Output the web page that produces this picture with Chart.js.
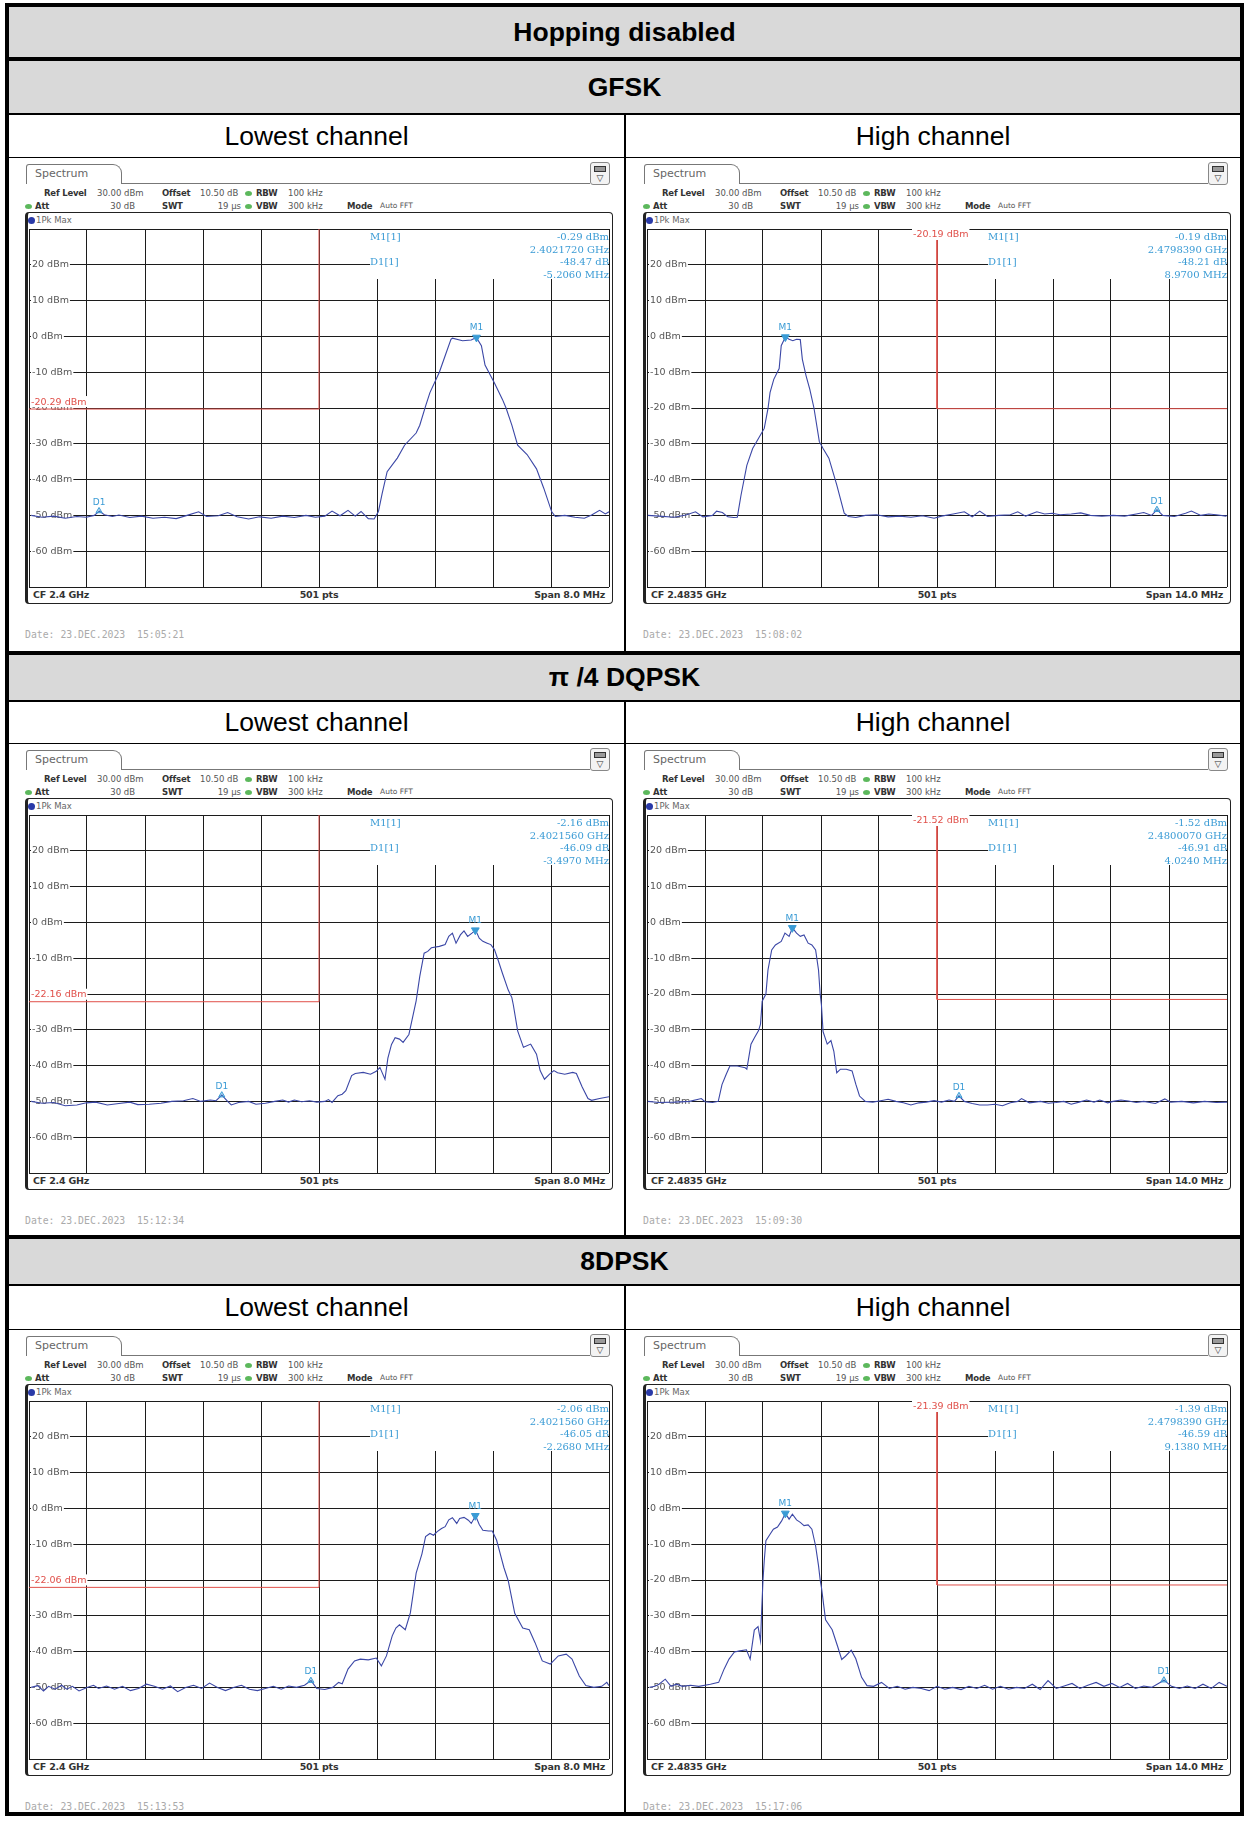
<!DOCTYPE html>
<html>
<head>
<meta charset="utf-8">
<title>Hopping disabled</title>
<script src="https://cdn.jsdelivr.net/npm/chart.js@4.4.1/dist/chart.umd.min.js"></script>
<style>
  html, body { margin: 0; padding: 0; background: #fff; }
  #page { position: relative; width: 1249px; height: 1822px; overflow: hidden; font-family: "Liberation Sans", Arial, sans-serif; }
  .box { position: absolute; box-sizing: border-box; }
  .t { position: absolute; white-space: nowrap; height: 12px; line-height: 12px; font-family: "DejaVu Sans", sans-serif; font-size: 8.5px; color: #555; }
  .b { font-weight: bold; color: #333; letter-spacing: -0.2px; }
  .mk { font-family: "DejaVu Serif", serif; font-size: 10px; color: #3a9bd5; }
  .band { position: absolute; display: flex; align-items: center; justify-content: center; color: #000; font-size: 26.5px; }
</style>
</head>
<body>
<div id="page"></div>
<script>
// table text
const tableTitle = 'Hopping disabled';
const modulations = ['GFSK', 'π /4 DQPSK', '8DPSK'];
const channelNames = ['Lowest channel', 'High channel'];

// spectrum settings per panel (GFSK low, GFSK high, DQPSK low, DQPSK high, 8DPSK low, 8DPSK high)
const centerMHz = [2400, 2483.5, 2400, 2483.5, 2400, 2483.5];
const cfText = ['2.4 GHz', '2.4835 GHz', '2.4 GHz', '2.4835 GHz', '2.4 GHz', '2.4835 GHz'];
const spanMHz = [8, 14, 8, 14, 8, 14];
const m1Level = [-0.29, -0.19, -2.16, -1.52, -2.06, -1.39];
const m1FreqGHz = ['2.4021720', '2.4798390', '2.4021560', '2.4800070', '2.4021560', '2.4798390'];
const d1DeltaDb = [-48.47, -48.21, -46.09, -46.91, -46.05, -46.59];
const d1DeltaMHz = ['-5.2060', '8.9700', '-3.4970', '4.0240', '-2.2680', '9.1380'];
const displayLine = [-20.29, -20.19, -22.16, -21.52, -22.06, -21.39];
const sweepTime = ['15:05:21', '15:08:02', '15:12:34', '15:09:30', '15:13:53', '15:17:06'];
const refLevel = 30;
const bottomLevel = -70;
const yTickLabels = [20, 10, 0, -10, -20, -30, -40, -50, -60];

// traces: [MHz from CF, dBm]
const gfskLowTrace = [
  [-3.97,-50.0],[-3.82,-50.5],[-3.66,-50.2],[-3.50,-50.8],[-3.34,-50.3],[-3.21,-50.5],
  [-3.10,-50.0],[-3.03,-48.8],[-2.96,-49.8],[-2.85,-50.3],[-2.76,-49.9],[-2.61,-50.6],
  [-2.45,-50.2],[-2.29,-50.8],[-2.13,-50.5],[-1.97,-50.9],[-1.82,-50.0],[-1.66,-49.0],
  [-1.55,-50.3],[-1.39,-50.1],[-1.26,-49.2],[-1.13,-50.4],[-0.97,-51.0],[-0.82,-50.4],
  [-0.66,-50.8],[-0.50,-50.2],[-0.34,-50.6],[-0.18,-50.0],[-0.05,-50.5],[0.08,-50.2],
  [0.18,-48.8],[0.29,-50.1],[0.40,-48.6],[0.50,-50.2],[0.58,-48.9],[0.68,-50.9],[0.76,-51.0],
  [0.82,-48.9],[0.87,-44.0],[0.94,-37.8],[1.08,-34.0],[1.18,-30.4],[1.34,-27.0],[1.39,-24.8],
  [1.47,-19.5],[1.53,-15.7],[1.66,-10.0],[1.74,-5.4],[1.82,-0.8],[1.84,-0.5],[1.98,-1.2],
  [2.10,-1.0],[2.17,-0.29],[2.24,-2.6],[2.29,-8.0],[2.42,-13.0],[2.53,-17.6],[2.58,-20.0],
  [2.66,-24.8],[2.74,-30.4],[2.87,-33.0],[3.00,-37.0],[3.10,-42.4],[3.21,-49.0],[3.26,-50.3],
  [3.39,-50.0],[3.53,-50.5],[3.66,-50.8],[3.76,-49.9],[3.87,-48.6],[3.95,-49.6],[4.00,-49.0]
];
const gfskHighTrace = [
  [-6.98,-50.0],[-6.71,-50.2],[-6.34,-50.5],[-6.06,-49.9],[-5.83,-49.0],[-5.65,-50.4],
  [-5.42,-50.0],[-5.32,-48.8],[-5.18,-49.2],[-5.05,-50.4],[-4.91,-50.6],[-4.82,-50.5],
  [-4.73,-44.3],[-4.59,-36.0],[-4.45,-31.3],[-4.31,-28.5],[-4.17,-25.7],[-4.08,-20.2],
  [-4.03,-15.7],[-3.94,-12.0],[-3.81,-9.0],[-3.76,-2.6],[-3.66,-0.19],[-3.57,-0.8],
  [-3.48,-1.2],[-3.39,-0.8],[-3.30,-0.9],[-3.25,-6.4],[-3.16,-11.0],[-3.07,-14.8],
  [-2.97,-20.0],[-2.84,-29.4],[-2.75,-31.3],[-2.61,-34.0],[-2.42,-41.5],[-2.24,-49.4],
  [-2.14,-50.3],[-1.96,-50.6],[-1.73,-50.0],[-1.46,-49.8],[-1.18,-50.4],[-0.90,-50.2],
  [-0.63,-50.5],[-0.35,-50.1],[-0.07,-50.8],[0.11,-50.2],[0.39,-49.6],[0.66,-49.0],
  [0.85,-50.4],[1.03,-48.8],[1.22,-50.3],[1.49,-50.0],[1.77,-49.8],[1.95,-49.0],
  [2.14,-50.2],[2.41,-49.0],[2.60,-49.6],[2.78,-49.4],[2.97,-49.8],[3.24,-49.6],
  [3.47,-49.3],[3.70,-50.0],[3.98,-50.2],[4.25,-50.0],[4.53,-50.2],[4.81,-49.6],
  [4.99,-49.2],[5.18,-50.0],[5.31,-48.4],[5.45,-50.0],[5.73,-50.3],[6.00,-49.4],
  [6.14,-48.8],[6.37,-50.0],[6.56,-49.6],[6.74,-49.8],[6.97,-50.2],[7.00,-50.0]
];
const dqpskLowTrace = [
  [-3.97,-50.0],[-3.82,-50.5],[-3.66,-50.3],[-3.50,-51.2],[-3.34,-51.0],[-3.21,-50.4],
  [-3.08,-50.2],[-2.92,-51.0],[-2.76,-50.6],[-2.61,-50.2],[-2.50,-50.9],[-2.34,-50.8],
  [-2.18,-50.5],[-2.03,-50.0],[-1.87,-49.8],[-1.74,-49.2],[-1.63,-50.0],[-1.50,-49.6],
  [-1.42,-49.8],[-1.34,-48.25],[-1.26,-50.0],[-1.21,-51.0],[-1.11,-50.3],[-0.97,-50.0],
  [-0.87,-50.8],[-0.74,-50.5],[-0.61,-50.0],[-0.50,-49.6],[-0.42,-50.2],[-0.34,-49.6],
  [-0.24,-50.1],[-0.13,-49.8],[-0.03,-50.2],[0.08,-50.0],[0.13,-49.5],[0.18,-50.3],
  [0.26,-48.4],[0.32,-48.0],[0.37,-47.0],[0.45,-42.8],[0.50,-42.2],[0.61,-41.9],
  [0.71,-42.4],[0.79,-41.6],[0.84,-40.5],[0.91,-43.8],[0.95,-37.9],[1.00,-34.1],
  [1.05,-32.2],[1.11,-32.6],[1.16,-33.5],[1.24,-31.3],[1.29,-26.6],[1.34,-21.9],
  [1.39,-15.1],[1.45,-8.6],[1.50,-8.1],[1.55,-7.1],[1.66,-6.7],[1.74,-6.2],[1.79,-3.9],
  [1.84,-3.0],[1.89,-5.8],[1.95,-3.5],[2.00,-2.4],[2.05,-3.9],[2.11,-3.0],[2.16,-2.16],
  [2.21,-4.4],[2.26,-5.3],[2.32,-5.8],[2.37,-6.2],[2.42,-7.6],[2.47,-10.5],[2.53,-14.2],
  [2.61,-18.9],[2.66,-21.0],[2.68,-23.0],[2.74,-30.3],[2.82,-34.9],[2.92,-34.0],
  [3.00,-36.8],[3.05,-41.4],[3.11,-43.8],[3.18,-42.4],[3.24,-41.4],[3.29,-42.0],
  [3.39,-42.4],[3.50,-41.9],[3.55,-42.2],[3.63,-46.0],[3.71,-49.2],[3.76,-49.7],
  [3.87,-49.2],[4.00,-48.7]
];
const dqpskHighTrace = [
  [-6.98,-50.0],[-6.71,-50.3],[-6.34,-50.2],[-5.97,-50.0],[-5.69,-49.2],[-5.60,-50.1],
  [-5.42,-50.3],[-5.28,-50.0],[-5.19,-45.3],[-5.09,-42.5],[-5.00,-40.1],[-4.82,-40.1],
  [-4.63,-40.6],[-4.59,-41.0],[-4.49,-34.0],[-4.40,-32.1],[-4.31,-30.3],[-4.26,-28.4],
  [-4.22,-22.0],[-4.13,-20.0],[-4.08,-13.3],[-3.99,-7.7],[-3.90,-6.3],[-3.76,-5.3],
  [-3.67,-3.0],[-3.57,-3.9],[-3.49,-1.52],[-3.39,-3.0],[-3.30,-3.9],[-3.21,-3.5],
  [-3.11,-5.8],[-3.02,-6.3],[-2.93,-7.7],[-2.86,-13.3],[-2.82,-20.0],[-2.79,-23.0],
  [-2.75,-30.5],[-2.65,-34.0],[-2.56,-33.0],[-2.49,-36.0],[-2.42,-42.0],[-2.33,-41.0],
  [-2.19,-41.0],[-2.05,-41.5],[-1.96,-45.2],[-1.87,-48.5],[-1.73,-50.0],[-1.55,-50.2],
  [-1.36,-49.8],[-1.18,-49.4],[-0.99,-50.0],[-0.81,-50.4],[-0.63,-51.0],[-0.44,-50.4],
  [-0.26,-50.2],[-0.07,-49.8],[0.11,-50.2],[0.29,-49.6],[0.42,-50.0],[0.53,-48.43],
  [0.66,-50.0],[0.85,-50.6],[1.03,-51.0],[1.22,-51.0],[1.40,-50.8],[1.58,-51.2],
  [1.77,-50.4],[1.95,-50.0],[2.04,-49.2],[2.23,-50.4],[2.50,-50.0],[2.69,-50.5],
  [2.87,-50.3],[3.06,-50.0],[3.24,-50.8],[3.43,-50.2],[3.61,-49.6],[3.79,-50.2],
  [3.93,-49.6],[4.12,-50.4],[4.25,-50.0],[4.44,-49.6],[4.62,-49.9],[4.81,-50.3],
  [4.99,-50.0],[5.27,-50.6],[5.50,-49.3],[5.64,-50.2],[5.91,-50.0],[6.19,-50.4],
  [6.46,-50.0],[6.74,-50.3],[7.00,-50.2]
];
const d8LowTrace = [
  [-3.97,-50.0],[-3.88,-49.5],[-3.80,-51.0],[-3.73,-49.7],[-3.64,-50.5],[-3.55,-49.4],
  [-3.48,-50.5],[-3.40,-49.7],[-3.31,-51.0],[-3.20,-50.0],[-3.11,-49.4],[-3.04,-50.3],
  [-2.93,-49.6],[-2.82,-50.5],[-2.71,-49.7],[-2.60,-50.9],[-2.49,-50.3],[-2.38,-49.1],
  [-2.27,-49.7],[-2.16,-50.5],[-2.05,-49.6],[-1.95,-51.2],[-1.84,-50.0],[-1.73,-49.4],
  [-1.62,-50.3],[-1.51,-48.8],[-1.40,-50.0],[-1.29,-50.9],[-1.18,-50.0],[-1.07,-49.4],
  [-0.96,-50.5],[-0.85,-50.9],[-0.74,-50.3],[-0.63,-49.7],[-0.52,-50.5],[-0.42,-49.6],
  [-0.31,-50.0],[-0.20,-49.4],[-0.11,-48.11],[-0.03,-50.3],[0.08,-50.6],[0.19,-50.0],
  [0.27,-48.6],[0.32,-49.0],[0.40,-44.9],[0.49,-42.6],[0.57,-42.1],[0.68,-42.3],
  [0.79,-41.8],[0.86,-44.0],[0.93,-41.2],[1.01,-35.6],[1.06,-33.4],[1.11,-32.5],
  [1.19,-33.9],[1.26,-29.2],[1.30,-23.7],[1.34,-18.1],[1.42,-12.7],[1.47,-7.9],
  [1.53,-7.0],[1.58,-7.5],[1.63,-6.5],[1.69,-5.6],[1.74,-5.1],[1.79,-3.2],[1.84,-2.6],
  [1.90,-4.2],[1.94,-2.8],[2.00,-2.5],[2.06,-3.3],[2.10,-4.2],[2.16,-2.06],[2.21,-4.5],
  [2.26,-6.1],[2.34,-6.3],[2.39,-6.3],[2.45,-8.9],[2.50,-12.7],[2.55,-16.5],[2.61,-20.2],
  [2.70,-29.3],[2.81,-33.4],[2.90,-33.9],[2.98,-37.5],[3.08,-42.6],[3.19,-43.5],
  [3.30,-41.2],[3.41,-40.7],[3.49,-42.1],[3.59,-46.8],[3.68,-49.5],[3.79,-50.0],
  [3.90,-49.7],[3.97,-48.6],[4.00,-49.5]
];
const d8HighTrace = [
  [-6.94,-50.0],[-6.81,-49.7],[-6.71,-49.1],[-6.56,-47.7],[-6.42,-49.7],[-6.29,-49.1],
  [-6.14,-49.7],[-5.95,-49.4],[-5.75,-49.7],[-5.47,-49.1],[-5.27,-48.6],[-5.14,-44.9],
  [-5.02,-42.1],[-4.89,-40.1],[-4.76,-39.8],[-4.60,-39.5],[-4.51,-42.1],[-4.41,-34.0],
  [-4.32,-33.0],[-4.26,-37.0],[-4.23,-28.0],[-4.20,-20.0],[-4.17,-14.6],[-4.13,-9.0],
  [-4.03,-7.2],[-3.95,-5.8],[-3.85,-5.2],[-3.75,-3.5],[-3.66,-1.39],[-3.57,-3.0],
  [-3.49,-1.6],[-3.39,-3.2],[-3.30,-3.9],[-3.21,-4.8],[-3.11,-4.6],[-3.02,-5.8],
  [-2.93,-10.5],[-2.86,-16.0],[-2.82,-20.0],[-2.79,-22.0],[-2.69,-31.1],[-2.53,-33.9],
  [-2.40,-38.5],[-2.30,-42.2],[-2.21,-41.3],[-2.07,-39.6],[-1.96,-42.0],[-1.82,-47.2],
  [-1.69,-49.5],[-1.53,-49.7],[-1.34,-48.6],[-1.15,-50.3],[-0.96,-49.7],[-0.77,-50.5],
  [-0.58,-50.0],[-0.38,-50.3],[-0.19,-50.9],[0.00,-49.7],[0.19,-50.5],[0.38,-50.0],
  [0.58,-50.6],[0.77,-49.7],[0.96,-50.3],[1.15,-49.4],[1.34,-50.5],[1.53,-49.7],
  [1.73,-50.5],[1.92,-50.0],[2.11,-50.3],[2.30,-49.1],[2.49,-50.6],[2.68,-48.1],
  [2.88,-50.3],[3.07,-49.6],[3.26,-48.9],[3.45,-50.3],[3.64,-49.4],[3.84,-48.6],
  [4.03,-49.7],[4.22,-48.9],[4.41,-50.0],[4.60,-48.9],[4.79,-50.3],[4.99,-49.6],
  [5.18,-50.0],[5.48,-47.98],[5.66,-49.7],[5.85,-50.3],[6.04,-49.6],[6.23,-50.3],
  [6.42,-49.1],[6.62,-50.3],[6.81,-48.6],[7.00,-49.7]
];
const panelTraces = [gfskLowTrace, gfskHighTrace, dqpskLowTrace, dqpskHighTrace, d8LowTrace, d8HighTrace];

const traceColor = '#3b47a6';
const markerColor = '#3a9bd5';
const lineColor = '#e0504a';
const gridColor = '#1c1c1c';

const page = document.getElementById('page');

function el(tag, cls, style, text) {
  const e = document.createElement(tag);
  if (cls) e.className = cls;
  if (style) e.style.cssText = style;
  if (text != null) e.textContent = text;
  page.appendChild(e);
  return e;
}

// text with vertical centre cy; align l / r / c
function label(x, cy, s, cls, extra, align) {
  let st = `top:${cy - 6}px;`;
  if (align === 'r') st += `left:${x - 200}px;width:200px;text-align:right;`;
  else if (align === 'c') st += `left:${x - 100}px;width:200px;text-align:center;`;
  else st += `left:${x}px;`;
  return el('div', 't' + (cls ? ' ' + cls : ''), st + (extra || ''), s);
}

function dot(x, cy, color, w, h) {
  el('div', 'box', `left:${x}px;top:${cy - h / 2}px;width:${w}px;height:${h}px;border-radius:50%;background:${color};`);
}

// no extra room for axes: chart area = canvas minus layout padding
function noRoom(s) {
  if (s.isHorizontal()) s.height = 0; else s.width = 0;
  s.paddingTop = 0; s.paddingBottom = 0; s.paddingLeft = 0; s.paddingRight = 0;
}

// ---- table frame ----
el('div', 'box', 'left:5px;top:3px;width:1239px;height:1813px;border:4px solid #000;');
el('div', 'band', 'left:9px;top:7px;width:1231px;height:50px;background:#d9d9d9;font-weight:bold;', tableTitle);
el('div', 'box', 'left:9px;top:57px;width:1231px;height:4px;background:#000;');

const titleTops = [61, 655, 1239];
const titleHeights = [52, 45, 45];
const channelTops = [115, 702, 1286];
const chartTops = [158, 744, 1330];
const chartBottoms = [651, 1235, 1812];

modulations.forEach((m, r) => {
  el('div', 'band', `left:9px;top:${titleTops[r]}px;width:1231px;height:${titleHeights[r]}px;background:#d9d9d9;font-weight:bold;`, m);
  el('div', 'box', `left:9px;top:${titleTops[r] + titleHeights[r]}px;width:1231px;height:2px;background:#000;`);
  const ch = chartTops[r] - 1 - channelTops[r];
  el('div', 'band', `left:9px;top:${channelTops[r]}px;width:615px;height:${ch}px;`, channelNames[0]);
  el('div', 'band', `left:626px;top:${channelTops[r]}px;width:614px;height:${ch}px;`, channelNames[1]);
  el('div', 'box', `left:9px;top:${chartTops[r] - 1}px;width:1231px;height:1px;background:#000;`);
  el('div', 'box', `left:624px;top:${channelTops[r]}px;width:2px;height:${chartBottoms[r] - channelTops[r]}px;background:#000;`);
  if (r < 2) el('div', 'box', `left:9px;top:${chartBottoms[r]}px;width:1231px;height:4px;background:#000;`);
});

// ---- chart plugin: marker box, marker labels, display line label ----
const overlay = {
  id: 'overlay',
  beforeDatasetsDraw(chart) {
    const { ctx, chartArea: a } = chart;
    ctx.save();
    ctx.fillStyle = '#fff';
    ctx.fillRect(a.left + 341, a.top + 1, a.right - a.left - 342, 49);
    ctx.restore();
  },
  afterDatasetsDraw(chart, args, opts) {
    const { ctx, chartArea: a } = chart;
    const x = chart.scales.x, y = chart.scales.y;
    ctx.save();
    ctx.font = '9px "DejaVu Sans"';
    ctx.fillStyle = markerColor;
    ctx.textAlign = 'center';
    ctx.textBaseline = 'bottom';
    ctx.fillText('M1', x.getPixelForValue(opts.m1x), y.getPixelForValue(opts.m1y) - 5);
    ctx.fillText('D1', x.getPixelForValue(opts.d1x), y.getPixelForValue(opts.d1y) - 4);

    const txt = opts.dl.toFixed(2) + ' dBm';
    ctx.font = '9.5px "DejaVu Sans"';
    const w = ctx.measureText(txt).width;
    let tx, ty;
    if (opts.low) { tx = a.left + 2; ty = y.getPixelForValue(opts.dl) - 7; }
    else { tx = x.getPixelForValue(0) - 24; ty = a.top + 6; }
    ctx.fillStyle = '#fff';
    ctx.fillRect(tx - 1, ty - 6, w + 2, 11);
    ctx.fillStyle = lineColor;
    ctx.textAlign = 'left';
    ctx.textBaseline = 'middle';
    ctx.fillText(txt, tx, ty);
    ctx.restore();
  }
};

const colLeft = [9, 627];
const gridW = 580, gridH = 358;

panelTraces.forEach((trace, i) => {
  const L = colLeft[i % 2], T = chartTops[Math.floor(i / 2)];
  const low = i % 2 === 0;
  const half = spanMHz[i] / 2;

  // tab and icon
  el('div', 'box', `left:${L + 17}px;top:${T + 6}px;width:96px;height:20px;border:1px solid #777;border-bottom:none;border-radius:3px 9px 0 0;`);
  label(L + 26, T + 16, 'Spectrum', '', 'font-size:11px;color:#666;');
  el('div', 'box', `left:${L + 112}px;top:${T + 25}px;width:469px;height:1px;background:#777;`);
  el('div', 'box', `left:${L + 581}px;top:${T + 4}px;width:20px;height:23px;border:1px solid #888;border-radius:3px;background:#f3f3f3;`);
  el('div', 'box', `left:${L + 585}px;top:${T + 8}px;width:12px;height:6px;border:1px solid #333;background:#999;`);
  label(L + 591, T + 20, '▽', '', 'font-size:9px;color:#333;', 'c');

  // setting rows
  label(L + 35, T + 35, 'Ref Level', 'b');
  label(L + 88, T + 35, refLevel.toFixed(2) + ' dBm');
  label(L + 153, T + 35, 'Offset', 'b');
  label(L + 191, T + 35, '10.50 dB');
  dot(L + 236, T + 35, '#5cb85c', 7, 5);
  label(L + 247, T + 35, 'RBW', 'b');
  label(L + 279, T + 35, '100 kHz');
  dot(L + 16, T + 48, '#5cb85c', 7, 5);
  label(L + 26, T + 48, 'Att', 'b');
  label(L + 126, T + 48, '30 dB', '', '', 'r');
  label(L + 153, T + 48, 'SWT', 'b');
  label(L + 232, T + 48, '19 µs', '', '', 'r');
  dot(L + 236, T + 48, '#5cb85c', 7, 5);
  label(L + 247, T + 48, 'VBW', 'b');
  label(L + 279, T + 48, '300 kHz');
  label(L + 338, T + 48, 'Mode', 'b');
  label(L + 371, T + 48, 'Auto FFT', '', 'font-size:7.5px;');

  // diagram frame
  el('div', 'box', `left:${L + 16}px;top:${T + 54}px;width:588px;height:392px;border:1.5px solid #222;border-left-width:3px;border-radius:4px;`);
  dot(L + 19, T + 62, '#2a3aa8', 7, 7);
  label(L + 27, T + 62, '1Pk Max', '', 'color:#666;');

  // trace chart; grid area should land at (L+20, T+71) size gridW x gridH
  const cv = el('canvas', null, `position:absolute;left:${L + 19}px;top:${T + 70}px;width:${gridW + 2}px;height:${gridH + 2}px;`);
  cv.width = gridW + 2;
  cv.height = gridH + 2;

  const m1x = Number(m1FreqGHz[i]) * 1000 - centerMHz[i];
  const d1x = m1x + Number(d1DeltaMHz[i]);
  const d1y = m1Level[i] + d1DeltaDb[i];
  const dl = displayLine[i];
  const dlPoints = low
    ? [{ x: -half, y: dl }, { x: 0, y: dl }, { x: 0, y: refLevel }]
    : [{ x: 0, y: refLevel }, { x: 0, y: dl }, { x: half, y: dl }];

  const chart = new Chart(cv, {
    type: 'line',
    data: {
      datasets: [
        { data: [{ x: m1x, y: m1Level[i] }], showLine: false, pointStyle: 'triangle', rotation: 180,
          pointRadius: 4.5, backgroundColor: markerColor, borderColor: markerColor, borderWidth: 1 },
        { data: [{ x: d1x, y: d1y }], showLine: false, pointStyle: 'triangle', rotation: 0,
          pointRadius: 3.5, backgroundColor: 'rgba(58,155,213,0.35)', borderColor: markerColor, borderWidth: 1 },
        { data: trace.map(p => ({ x: p[0], y: p[1] })), borderColor: traceColor, borderWidth: 1.1,
          pointRadius: 0, tension: 0 },
        { data: dlPoints, borderColor: lineColor, borderWidth: 1, pointRadius: 0, tension: 0 }
      ]
    },
    options: {
      responsive: false,
      maintainAspectRatio: false,
      animation: false,
      layout: { padding: 1, autoPadding: false },
      events: [],
      plugins: {
        legend: { display: false },
        tooltip: { enabled: false },
        overlay: { m1x: m1x, m1y: m1Level[i], d1x: d1x, d1y: d1y, dl: dl, low: low }
      },
      scales: {
        x: {
          type: 'linear', min: -half, max: half,
          ticks: { display: false, stepSize: spanMHz[i] / 10 },
          grid: { color: gridColor, lineWidth: 1, drawTicks: false },
          border: { display: false },
          afterFit: noRoom
        },
        y: {
          type: 'linear', min: bottomLevel, max: refLevel,
          ticks: {
            stepSize: 10, mirror: true, padding: 3, color: '#555',
            font: { family: 'DejaVu Sans', size: 9.5 },
            showLabelBackdrop: c => yTickLabels.includes(c.tick.value),
            backdropColor: '#fff', backdropPadding: { x: 1, y: 0 },
            callback: v => yTickLabels.includes(v) ? v + ' dBm' : ''
          },
          grid: { color: gridColor, lineWidth: 1, drawTicks: false },
          border: { display: false },
          afterFit: noRoom
        }
      }
    },
    plugins: [overlay]
  });

  // if the library still kept some room around the plot, grow the canvas so the grid fits the frame
  const a = chart.chartArea;
  const padL = a.left, padT = a.top, padR = cv.width - a.right, padB = cv.height - a.bottom;
  if (Math.abs(a.right - a.left - gridW) > 0.5 || Math.abs(a.bottom - a.top - gridH) > 0.5) {
    const W = Math.round(gridW + padL + padR), H = Math.round(gridH + padT + padB);
    cv.style.left = (L + 20 - padL) + 'px';
    cv.style.top = (T + 71 - padT) + 'px';
    chart.resize(W, H);
  }

  // marker readout
  label(L + 361, T + 79, 'M1[1]', 'mk');
  label(L + 600, T + 79, m1Level[i].toFixed(2) + ' dBm', 'mk', '', 'r');
  label(L + 600, T + 91.5, m1FreqGHz[i] + ' GHz', 'mk', '', 'r');
  label(L + 361, T + 104, 'D1[1]', 'mk');
  label(L + 600, T + 104, d1DeltaDb[i].toFixed(2) + ' dB', 'mk', '', 'r');
  label(L + 600, T + 116.5, d1DeltaMHz[i] + ' MHz', 'mk', '', 'r');

  // bottom bar
  label(L + 24, T + 437, 'CF ' + cfText[i], 'b', 'font-size:9.5px;');
  label(L + 310, T + 437, '501 pts', 'b', 'font-size:9.5px;', 'c');
  label(L + 596, T + 437, 'Span ' + spanMHz[i].toFixed(1) + ' MHz', 'b', 'font-size:9.5px;', 'r');

  // date line
  label(L + 16, T + 477, 'Date: 23.DEC.2023  ' + sweepTime[i], '', 'font-family:"DejaVu Sans Mono",monospace;font-size:9.8px;color:#aaa;white-space:pre;');
});
</script>
</body>
</html>
